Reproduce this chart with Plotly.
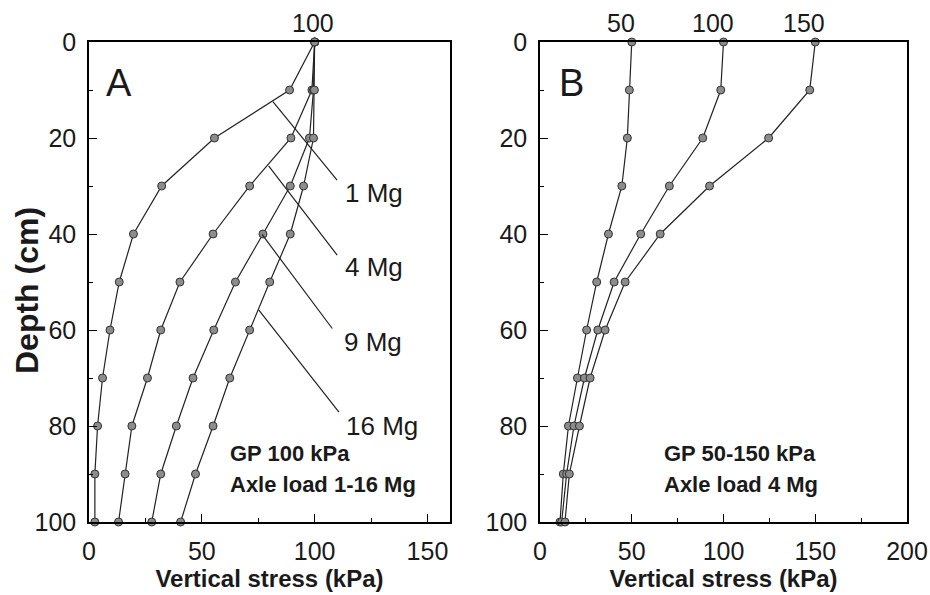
import plotly.graph_objects as go

# ---------------- data ----------------
depth = [0, 10, 20, 30, 40, 50, 60, 70, 80, 90, 100]

# Panel A: GP 100 kPa, axle loads 1-16 Mg
a_1mg = [100, 88.9, 55.6, 32.2, 19.7, 13.4, 9.3, 6.0, 3.8, 2.6, 2.6]
a_4mg = [100, 98.8, 89.5, 71.2, 55.0, 40.3, 31.8, 25.9, 19.0, 16.0, 13.1]
a_9mg = [100, 99.5, 97.7, 89.2, 77.1, 64.9, 55.3, 46.1, 38.7, 31.8, 27.8]
a_16mg = [100, 99.9, 99.5, 95.1, 89.2, 80.1, 71.2, 62.4, 55.0, 47.2, 40.6]
a_series = [("1 Mg", a_1mg), ("4 Mg", a_4mg), ("9 Mg", a_9mg), ("16 Mg", a_16mg)]

# Panel B: axle load 4 Mg, GP 50-150 kPa
b_50 = [50, 48.7, 47.6, 44.6, 37.3, 30.9, 25.4, 20.4, 15.5, 12.7, 10.9]
b_100 = [100, 98.5, 88.7, 70.5, 54.9, 40.4, 31.5, 24.2, 18.5, 14.5, 11.8]
b_150 = [150, 147.0, 124.6, 92.4, 65.5, 46.4, 35.5, 27.3, 21.5, 16.0, 13.6]
b_series = [("50", b_50), ("100", b_100), ("150", b_150)]

# labels with leader lines in panel A: (text, curve point x, y, leader end x, y, text x, text y)
a_labels = [
    ("1 Mg", 81.5, 12.4, 110.5, 29.1, 112.6, 31.5),
    ("4 Mg", 79.6, 25.8, 110.5, 44.7, 112.6, 46.9),
    ("9 Mg", 76.7, 40.1, 108.3, 60.0, 112.0, 62.4),
    ("16 Mg", 75.2, 55.8, 111.3, 77.4, 113.0, 80.1),
]

x_ticks_a = [0, 50, 100, 150]
x_ticks_b = [0, 50, 100, 150, 200]
y_ticks = [0, 20, 40, 60, 80, 100]

FONT = "Liberation Sans, Arial, sans-serif"
LINE = "#222222"
MFILL = "#8c8c8c"
TXT = "#1a1a1a"

fig = go.Figure()

def add_curve(x, xa, ya, name):
    fig.add_trace(go.Scatter(
        x=x, y=depth, xaxis=xa, yaxis=ya, mode="lines+markers", name=name,
        line=dict(color=LINE, width=1.2),
        marker=dict(size=8, color=MFILL, line=dict(color="#333333", width=1)),
        cliponaxis=False, showlegend=False))

for name, vals in a_series:
    add_curve(vals, "x", "y", name)
for name, vals in b_series:
    add_curve(vals, "x2", "y2", name)

annotations = []
# leader lines + labels panel A
for text, cx, cy, lx, ly, tx, ty in a_labels:
    annotations.append(dict(x=cx, y=cy, ax=lx, ay=ly, xref="x", yref="y", axref="x", ayref="y",
                            text="", showarrow=True, arrowhead=0, arrowwidth=1.2, arrowcolor=LINE,
                            standoff=0, startstandoff=0))
    annotations.append(dict(x=tx, y=ty, xref="x", yref="y", text=text, showarrow=False,
                            xanchor="left", yanchor="middle",
                            font=dict(family=FONT, size=26, color=TXT)))

# top surface stress labels
annotations.append(dict(x=100, y=0, xref="x", yref="y", text="100", showarrow=False,
                        xanchor="center", yanchor="bottom", yshift=3, xshift=-2,
                        font=dict(family=FONT, size=25, color=TXT)))
for name, vals in b_series:
    annotations.append(dict(x=vals[0], y=0, xref="x2", yref="y2", text=name, showarrow=False,
                            xanchor="center", yanchor="bottom", yshift=3, xshift=-11,
                            font=dict(family=FONT, size=25, color=TXT)))

# panel letters
annotations.append(dict(x=13.2, y=8.5, xref="x", yref="y", text="A", showarrow=False,
                        xanchor="center", yanchor="middle",
                        font=dict(family=FONT, size=38, color=TXT)))
annotations.append(dict(x=17.3, y=8.5, xref="x2", yref="y2", text="B", showarrow=False,
                        xanchor="center", yanchor="middle",
                        font=dict(family=FONT, size=38, color=TXT)))

# info text
for xr, yr, xx, lines in [("x", "y", 61.8, ["GP 100 kPa", "Axle load 1-16 Mg"]),
                          ("x2", "y2", 66.4, ["GP 50-150 kPa", "Axle load 4 Mg"])]:
    for yy, t in zip([85.8, 92.1], lines):
        annotations.append(dict(x=xx, y=yy, xref=xr, yref=yr, text="<b>%s</b>" % t,
                                showarrow=False, xanchor="left", yanchor="middle",
                                font=dict(family=FONT, size=22, color=TXT)))

# y-axis title (placed as rotated text beside panel A)
annotations.append(dict(x=27 / 930, y=1 - 291 / 595, xref="paper", yref="paper",
                        text="<b>Depth (cm)</b>", textangle=-90, showarrow=False,
                        xanchor="center", yanchor="middle",
                        font=dict(family=FONT, size=32, color=TXT)))

def xaxis(rng, ticks, domain, anchor):
    return dict(range=rng, tickvals=ticks, domain=domain, anchor=anchor,
                showline=True, linecolor="black", linewidth=1.5, mirror=True,
                ticks="inside", ticklen=8, tickwidth=1.2, tickcolor="black",
                minor=dict(ticks="inside", ticklen=4, tickwidth=1, tickcolor="black",
                           tick0=0, dtick=25),
                showgrid=False, zeroline=False, ticklabelstandoff=6,
                tickfont=dict(family=FONT, size=25, color=TXT),
                title=dict(text="<b>Vertical stress (kPa)</b>", standoff=4,
                           font=dict(family=FONT, size=24, color=TXT)))

def yaxis(domain, anchor):
    return dict(range=[100, 0], tickvals=y_ticks, domain=domain, anchor=anchor,
                showline=True, linecolor="black", linewidth=1.5, mirror=True,
                ticks="inside", ticklen=8, tickwidth=1.2, tickcolor="black",
                minor=dict(ticks="inside", ticklen=4, tickwidth=1, tickcolor="black",
                           tick0=0, dtick=10),
                showgrid=False, zeroline=False, ticklabelstandoff=6,
                tickfont=dict(family=FONT, size=25, color=TXT))

ydom = [1 - 522 / 595, 1 - 42 / 595]
fig.update_layout(
    width=930, height=595,
    margin=dict(l=0, r=0, t=0, b=0, autoexpand=False),
    paper_bgcolor="white", plot_bgcolor="white",
    xaxis=xaxis([0, 160], x_ticks_a, [89 / 930, 450 / 930], "y"),
    yaxis=yaxis(ydom, "x"),
    xaxis2=xaxis([0, 200], x_ticks_b, [540 / 930, 907 / 930], "y2"),
    yaxis2=yaxis(ydom, "x2"),
    annotations=annotations,
)

fig.write_html("out.html", config={"displayModeBar": False},
               post_script="document.body.style.margin='0';document.body.style.overflow='hidden';")
